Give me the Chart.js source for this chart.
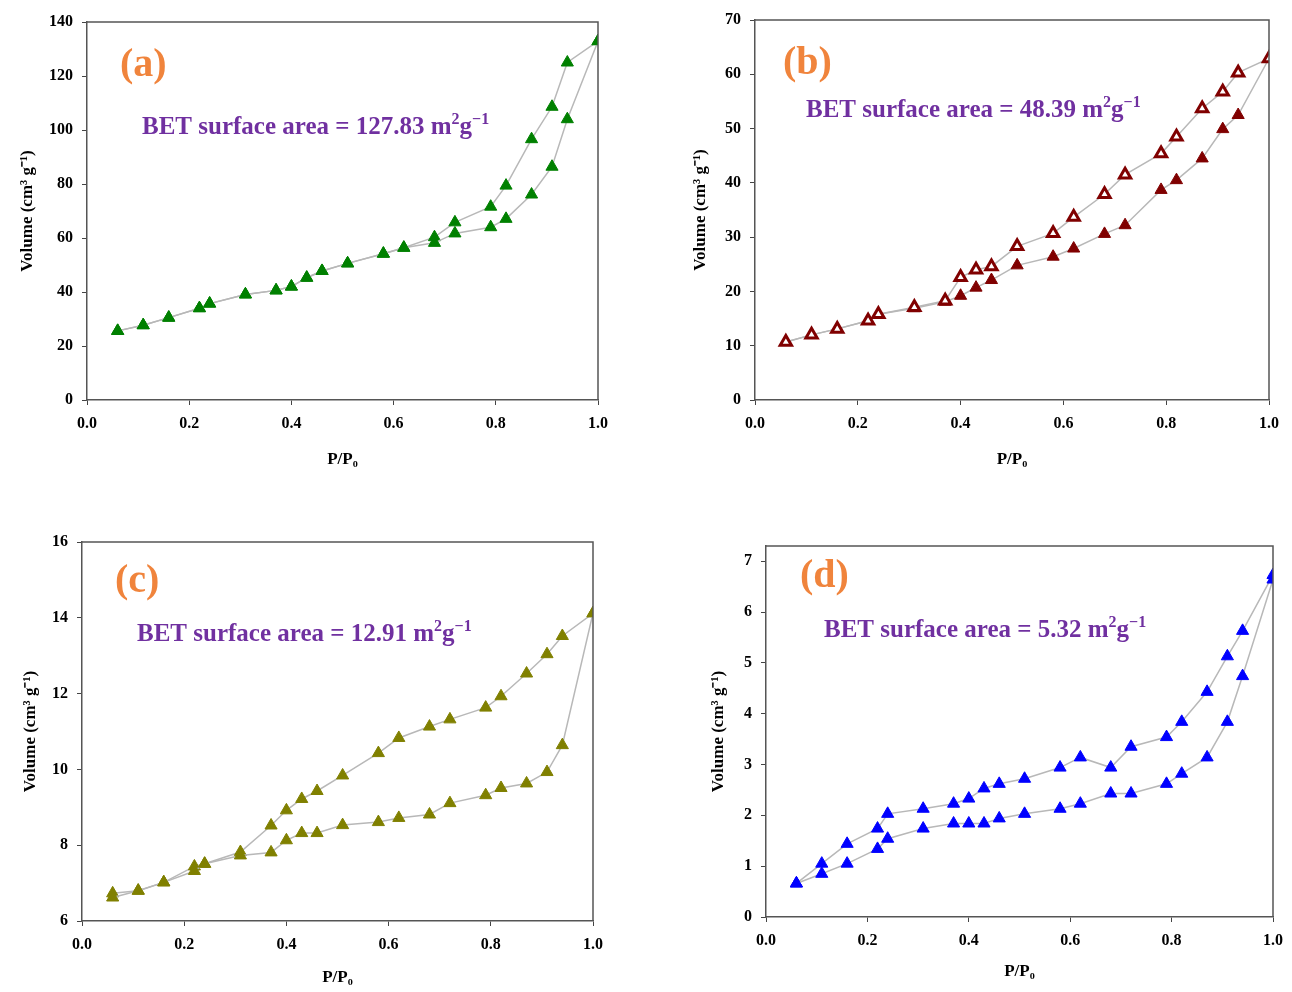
<!DOCTYPE html>
<html lang="en">
<head>
<meta charset="UTF-8">
<title>N2 isotherms</title>
<script src="https://cdn.jsdelivr.net/npm/chart.js"></script>
<style>
    body {
        margin: 0;
        background: #fff;
        width: 1292px;
        height: 992px;
        position: relative;
        overflow: hidden;
    }
    canvas { position: absolute; }
</style>
</head>
<body>
<canvas id="chartA" width="640" height="490" style="left:0px;top:0px;width:640px;height:490px"></canvas>
<canvas id="chartB" width="642" height="490" style="left:650px;top:0px;width:642px;height:490px"></canvas>
<canvas id="chartC" width="640" height="492" style="left:0px;top:500px;width:640px;height:492px"></canvas>
<canvas id="chartD" width="642" height="492" style="left:650px;top:500px;width:642px;height:492px"></canvas>

<script>
// relative pressure P/P0 (same points for both branches)
const pressure = [0.06, 0.11, 0.16, 0.22, 0.24, 0.31, 0.37, 0.40, 0.43, 0.46, 0.51, 0.58, 0.62, 0.68, 0.72, 0.79, 0.82, 0.87, 0.91, 0.94, 1.0];

const adsA = [25.6, 27.7, 30.5, 34.0, 35.7, 39.1, 40.6, 42.0, 45.3, 47.8, 50.6, 54.2, 56.4, 58.2, 61.7, 64.0, 67.1, 76.1, 86.4, 104.0, 132.9];
const desA = [25.6, 27.7, 30.5, 34.0, 35.7, 39.1, 40.6, 42.0, 45.3, 47.8, 50.6, 54.2, 56.4, 60.3, 65.8, 71.6, 79.4, 96.6, 108.6, 125.0, 132.9];

const adsB = [10.7, 12.0, 13.1, 14.6, 15.8, 16.9, 18.1, 19.2, 20.7, 22.1, 24.8, 26.4, 27.9, 30.6, 32.2, 38.7, 40.5, 44.5, 49.9, 52.5, 62.9];
const desB = [10.7, 12.0, 13.1, 14.6, 15.8, 17.1, 18.3, 22.6, 24.0, 24.6, 28.3, 30.7, 33.7, 37.9, 41.5, 45.4, 48.5, 53.7, 56.8, 60.3, 62.9];

const adsC = [6.62, 6.80, 7.02, 7.32, 7.51, 7.73, 7.81, 8.13, 8.32, 8.32, 8.53, 8.61, 8.72, 8.81, 9.11, 9.32, 9.51, 9.63, 9.93, 10.64, 14.12];
const desC = [6.73, 6.80, 7.02, 7.44, 7.51, 7.82, 8.52, 8.92, 9.22, 9.43, 9.84, 10.43, 10.83, 11.13, 11.32, 11.63, 11.93, 12.53, 13.04, 13.52, 14.12];

const adsD = [0.66, 0.85, 1.05, 1.34, 1.54, 1.74, 1.84, 1.84, 1.84, 1.94, 2.03, 2.13, 2.23, 2.43, 2.43, 2.62, 2.82, 3.14, 3.84, 4.74, 6.64];
const desD = [0.66, 1.05, 1.44, 1.74, 2.03, 2.13, 2.23, 2.33, 2.53, 2.62, 2.72, 2.94, 3.14, 2.94, 3.35, 3.54, 3.84, 4.43, 5.13, 5.63, 6.73];

const panelLabels = ['(a)', '(b)', '(c)', '(d)'];
const betValues = ['127.83', '48.39', '12.91', '5.32'];

// y tick values per panel and the axis bounds
const yTicksA = [0, 20, 40, 60, 80, 100, 120, 140];
const yTicksB = [0, 10, 20, 30, 40, 50, 60, 70];
const yTicksC = [6, 8, 10, 12, 14, 16];
const yTicksD = [0, 1, 2, 3, 4, 5, 6, 7];
const yTicks = [yTicksA, yTicksB, yTicksC, yTicksD];
const yMax = [140, 70, 16, 7.3];
const xTicks = [0, 0.2, 0.4, 0.6, 0.8, 1.0];

const FONT = '"Liberation Serif", "Times New Roman", serif';

const toPoints = (ys) => pressure.map((p, i) => ({ x: p, y: ys[i] }));

// frame on top/right plus the text annotations
const decorPlugin = {
    id: 'decor',
    afterDatasetsDraw(chart, args, opts) {
        const { ctx, chartArea } = chart;
        ctx.save();
        ctx.strokeStyle = '#555';
        ctx.lineWidth = 1.5;
        ctx.beginPath();
        ctx.moveTo(chartArea.left, chartArea.top);
        ctx.lineTo(chartArea.right, chartArea.top);
        ctx.lineTo(chartArea.right, chartArea.bottom);
        ctx.stroke();

        ctx.textBaseline = 'alphabetic';
        ctx.textAlign = 'left';
        ctx.fillStyle = '#F0843C';
        ctx.font = 'bold 40px ' + FONT;
        ctx.fillText(opts.label, opts.labelX, opts.labelY);

        // BET surface area = xx m2g-1 with superscripts
        ctx.fillStyle = '#7030A0';
        let x = opts.betX;
        const y = opts.betY;
        const main = 'bold 25px ' + FONT;
        const sup = 'bold 16px ' + FONT;
        const parts = [
            ['BET surface area = ' + opts.bet + ' m', main, 0],
            ['2', sup, -10],
            ['g', main, 0],
            ['\u22121', sup, -10]
        ];
        parts.forEach(([t, f, dy]) => {
            ctx.font = f;
            ctx.fillText(t, x, y + dy);
            x += ctx.measureText(t).width;
        });
        ctx.restore();
    }
};

const makeChart = (id, ads, des, color, openDes, idx, box) => {
    const ticksY = yTicks[idx];
    const lineColor = '#B8B8B8';
    const adsSet = {
        data: toPoints(ads),
        showLine: true,
        borderColor: lineColor,
        borderWidth: 1.5,
        pointStyle: 'triangle',
        pointRadius: 7,
        pointBackgroundColor: color,
        pointBorderColor: color,
        pointBorderWidth: 1,
        tension: 0
    };
    const desSet = {
        data: toPoints(des),
        showLine: true,
        borderColor: lineColor,
        borderWidth: 1.5,
        pointStyle: 'triangle',
        pointRadius: openDes ? 6.5 : 7,
        pointBackgroundColor: openDes ? '#fff' : color,
        pointBorderColor: color,
        pointBorderWidth: openDes ? 3 : 1,
        tension: 0
    };
    // first dataset is painted last, so the open markers go first to sit on top
    const datasets = openDes ? [desSet, adsSet] : [adsSet, desSet];

    new Chart(document.getElementById(id), {
        type: 'scatter',
        data: { datasets },
        options: {
            responsive: false,
            animation: false,
            layout: { padding: { left: box.padLeft, top: box.padTop, right: box.padRight, bottom: box.padBottom } },
            plugins: {
                legend: { display: false },
                tooltip: { enabled: false },
                decor: {
                    label: panelLabels[idx],
                    bet: betValues[idx],
                    labelX: box.labelX, labelY: box.labelY,
                    betX: box.betX, betY: box.betY
                }
            },
            scales: {
                x: {
                    type: 'linear',
                    min: 0, max: 1,
                    afterFit: (s) => { s.height = box.xHeight; },
                    afterBuildTicks: (s) => { s.ticks = xTicks.map((v) => ({ value: v })); },
                    ticks: {
                        padding: 9,
                        color: '#000',
                        font: { family: FONT, size: 16, weight: 'bold' },
                        callback: (v) => v.toFixed(1)
                    },
                    grid: { display: true, drawOnChartArea: false, drawTicks: true, tickLength: 5, tickColor: '#444' },
                    border: { display: true, color: '#555', width: 1.5 },
                    title: {
                        display: true,
                        text: 'P/P\u2080',
                        color: '#000',
                        padding: { top: 0, bottom: 0 },
                        font: { family: FONT, size: 17, weight: 'bold' }
                    }
                },
                y: {
                    min: ticksY[0], max: yMax[idx],
                    afterFit: (s) => { s.width = box.yWidth; },
                    afterBuildTicks: (s) => { s.ticks = ticksY.map((v) => ({ value: v })); },
                    ticks: {
                        padding: 9,
                        color: '#000',
                        font: { family: FONT, size: 16, weight: 'bold' }
                    },
                    grid: { display: true, drawOnChartArea: false, drawTicks: true, tickLength: 5, tickColor: '#444' },
                    border: { display: true, color: '#555', width: 1.5 },
                    title: {
                        display: true,
                        text: 'Volume (cm\u00B3 g\u207B\u00B9)',
                        color: '#000',
                        padding: { top: 0, bottom: 0 },
                        font: { family: FONT, size: 17, weight: 'bold' }
                    }
                }
            }
        },
        plugins: [decorPlugin]
    });
};

// panel (a): plot area 87..598 x 22..400
makeChart('chartA', adsA, desA, '#008000', false, 0, {
    padLeft: 17, padTop: 22, padRight: 42, padBottom: 20, yWidth: 70, xHeight: 70,
    labelX: 120, labelY: 76, betX: 142, betY: 134
});
// panel (b): plot area 755..1269 x 20..400 (canvas at 650,0)
makeChart('chartB', adsB, desB, '#800000', true, 1, {
    padLeft: 40, padTop: 20, padRight: 23, padBottom: 20, yWidth: 65, xHeight: 70,
    labelX: 133, labelY: 74, betX: 156, betY: 117
});
// panel (c): plot area 82..593 x 542..921 (canvas at 0,500)
makeChart('chartC', adsC, desC, '#808000', false, 2, {
    padLeft: 20, padTop: 42, padRight: 47, padBottom: 4, yWidth: 62, xHeight: 67,
    labelX: 115, labelY: 92, betX: 137, betY: 141
});
// panel (d): plot area 766..1282 x 546..917 (canvas at 650,500)
makeChart('chartD', adsD, desD, '#0000FF', false, 3, {
    padLeft: 58, padTop: 46, padRight: 10, padBottom: 10, yWidth: 58, xHeight: 65,
    labelX: 150, labelY: 87, betX: 174, betY: 137
});
</script>
</body>
</html>
